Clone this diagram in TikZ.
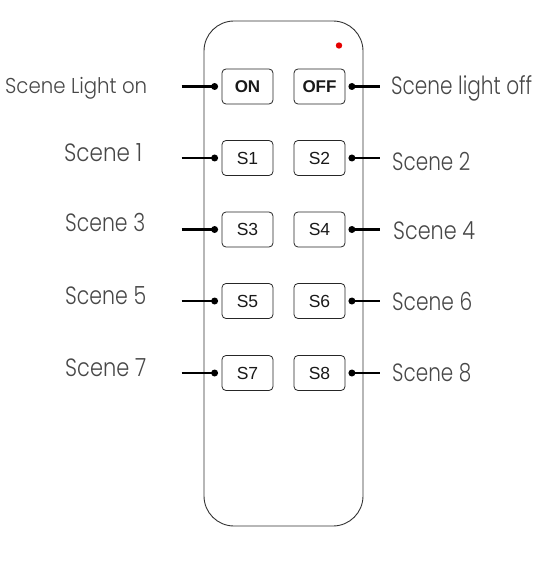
\documentclass[tikz,border=0pt]{standalone}
\usepackage{fontspec}
\IfFontExistsTF{Poppins Light}{\newfontfamily\labfont{Poppins Light}}{\newfontfamily\labfont{Poppins}}
\newfontfamily\btnfont{Liberation Sans}
\newcommand\fitlab[2]{\resizebox{#1}{\height}{#2}}
\begin{document}
\begin{tikzpicture}[x=1pt,y=-1pt,
  body/.style={draw=black!80,line width=0.9pt,rounded corners=30pt},
  btn/.style={draw=black!85,line width=0.8pt,rounded corners=4pt,minimum width=51pt,minimum height=35pt,inner sep=0pt,font=\btnfont\fontsize{17.5}{19}\selectfont,text=black!90},
  btnb/.style={btn,font=\btnfont\bfseries\fontsize{17}{19}\selectfont},
  lab/.style={inner sep=0pt,font=\labfont\fontsize{25}{28}\selectfont,text=black!72},
  labs/.style={lab,font=\labfont\fontsize{21.5}{24}\selectfont},
  conn/.style={line width=2.4pt,black},
  dotc/.style={circle,fill=black,inner sep=0pt,minimum size=7pt}]
\useasboundingbox (0,0) rectangle (550,569);
\draw[body] (204,21) rectangle (363,526);
\fill[red!90!black] (339,45.5) circle (3.2pt);
% buttons
\node[btnb] (on) at (247.5,86.5) {ON};
\node[btnb] (off) at (319.5,86.5) {OFF};
\node[btn] (s1) at (247.5,158) {S1};
\node[btn] (s2) at (319.5,158) {S2};
\node[btn] (s3) at (247.5,229.5) {S3};
\node[btn] (s4) at (319.5,229.5) {S4};
\node[btn] (s5) at (247.5,301) {S5};
\node[btn] (s6) at (319.5,301) {S6};
\node[btn] (s7) at (247.5,373) {S7};
\node[btn] (s8) at (319.5,373) {S8};
% dots
\foreach \n in {on,s1,s3,s5,s7}{
  \node[dotc] (d\n) at ([xshift=-7pt]\n.west) {};
  \coordinate (e\n) at ([xshift=-40pt]\n.west);
  \draw[conn] (e\n) -- (d\n.center);
}
\foreach \n in {off,s2,s4,s6,s8}{
  \node[dotc] (d\n) at ([xshift=6.5pt]\n.east) {};
  \coordinate (e\n) at ([xshift=35pt]\n.east);
  \draw[conn] (d\n.center) -- (e\n);
}
% labels
\node[labs,anchor=base west] (lon) at (5,94) {\fitlab{142pt}{Scene Light on}};
\node[lab,anchor=base west] (l1) at (64,161.7) {\fitlab{78pt}{Scene 1}};
\node[lab,anchor=base west] (l3) at (65,231.7) {\fitlab{80pt}{Scene 3}};
\node[lab,anchor=base west] (l5) at (65,304) {\fitlab{81pt}{Scene 5}};
\node[lab,anchor=base west] (l7) at (65,376.7) {\fitlab{81pt}{Scene 7}};
\node[lab,anchor=base west] (loff) at (391,95) {\fitlab{141pt}{Scene light off}};
\node[lab,anchor=base west] (l2) at (392,171) {\fitlab{78pt}{Scene 2}};
\node[lab,anchor=base west] (l4) at (393,239.3) {\fitlab{82pt}{Scene 4}};
\node[lab,anchor=base west] (l6) at (392,310) {\fitlab{80pt}{Scene 6}};
\node[lab,anchor=base west] (l8) at (392,381.7) {\fitlab{79pt}{Scene 8}};
\end{tikzpicture}
\end{document}
